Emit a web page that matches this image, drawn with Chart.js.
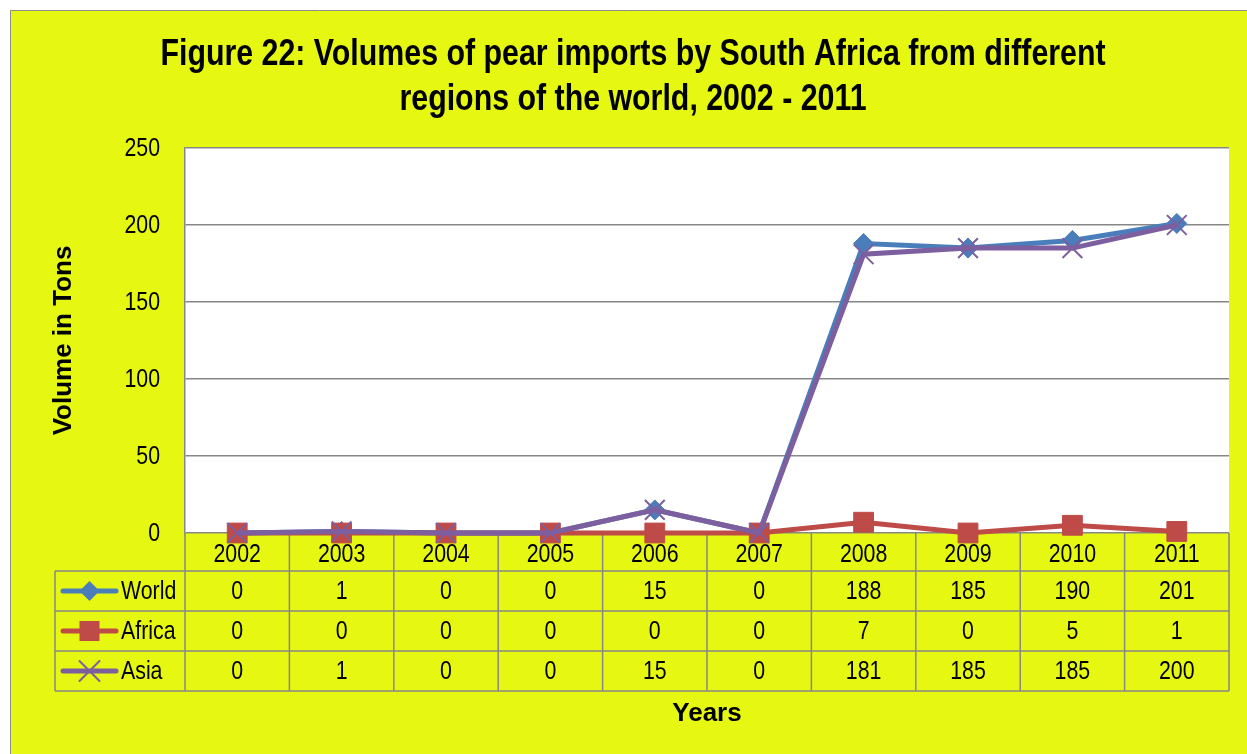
<!DOCTYPE html>
<html><head><meta charset="utf-8">
<script src="https://cdn.jsdelivr.net/npm/chart.js@4.4.1/dist/chart.umd.min.js"></script>
<style>html,body{margin:0;padding:0;background:#fff;overflow:hidden}#wrap{width:1247px;height:754px;position:relative}</style>
</head><body><div id="wrap"><canvas id="c" width="1247" height="754"></canvas></div>
<script>
const years = ['2002','2003','2004','2005','2006','2007','2008','2009','2010','2011'];
const world = [0,1,0,0,15,0,188,185,190,201];
const africa = [0,0,0,0,0,0,7,0,5,1];
const asia = [0,1,0,0,15,0,181,185,185,200];
const seriesNames = ['World','Africa','Asia'];
const titleLines = ['Figure 22: Volumes of pear imports by South Africa from different','regions of the world, 2002 - 2011'];
const yTitle = 'Volume in Tons';
const xTitle = 'Years';

const FONT = "'Liberation Sans',Arial,sans-serif";
const NARROW = 0.82;
const YELLOW = '#E6F811';
const GRID = '#878787';
const colors = ['#4A7EBB','#BE4B48','#7D5FA0'];
const markers = ['rectRot','rect','crossRot'];
const series = [world, africa, asia];

const TABLE = {header: 533, rows: [571, 611, 651, 691], legendLeft: 55};

function narrowText(ctx, text, x, y, align, font) {
  ctx.save();
  ctx.font = font; ctx.textAlign = align; ctx.fillStyle = '#000';
  ctx.translate(x, y); ctx.scale(NARROW, 1);
  ctx.fillText(text, 0, 0);
  ctx.restore();
}

function drawMarker(ctx, style, x, y, color) {
  ctx.save();
  ctx.fillStyle = color; ctx.strokeStyle = color;
  ctx.beginPath();
  if (style === 'rectRot') {
    const r = 10;
    ctx.moveTo(x - r, y); ctx.lineTo(x, y - r); ctx.lineTo(x + r, y); ctx.lineTo(x, y + r); ctx.closePath(); ctx.fill();
  } else if (style === 'rect') {
    const s = 10;
    ctx.rect(x - s, y - s, 2 * s, 2 * s); ctx.fill();
  } else {
    const r = 10; ctx.lineWidth = 2;
    ctx.moveTo(x - r, y - r); ctx.lineTo(x + r, y + r); ctx.moveTo(x + r, y - r); ctx.lineTo(x - r, y + r); ctx.stroke();
  }
  ctx.restore();
}

const bgPlugin = {
  id: 'bg',
  beforeDraw(chart) {
    const ctx = chart.ctx, a = chart.chartArea;
    ctx.save();
    ctx.fillStyle = '#fff'; ctx.fillRect(0, 0, chart.width, chart.height);
    ctx.fillStyle = YELLOW; ctx.fillRect(10, 10, chart.width, chart.height);
    ctx.strokeStyle = '#8c8c8c'; ctx.lineWidth = 1;
    ctx.beginPath(); ctx.moveTo(10.5, chart.height); ctx.lineTo(10.5, 10.5); ctx.lineTo(chart.width, 10.5); ctx.stroke();
    ctx.fillStyle = '#fff'; ctx.fillRect(a.left, a.top, a.right - a.left, a.bottom - a.top);
    ctx.restore();
  },
  beforeDatasetsDraw(chart) {
    const ctx = chart.ctx, a = chart.chartArea, xs = chart.scales.x, ys = chart.scales.y;
    const n = years.length, colW = (a.right - a.left) / n;
    const F = '26px ' + FONT;
    ctx.save();
    // title
    narrowText(ctx, titleLines[0], 633, 65, 'center', 'bold 37px ' + FONT);
    narrowText(ctx, titleLines[1], 633, 110, 'center', 'bold 37px ' + FONT);
    // y tick labels
    ctx.textBaseline = 'middle';
    ys.ticks.forEach(t => {
      narrowText(ctx, String(t.value), a.left - 25, ys.getPixelForValue(t.value) + 1, 'right', F);
    });
    // table grid
    ctx.strokeStyle = GRID; ctx.lineWidth = 1.5;
    ctx.beginPath();
    for (let k = 0; k <= n; k++) {
      const x = a.left + k * colW;
      ctx.moveTo(x, a.bottom); ctx.lineTo(x, TABLE.rows[3]);
    }
    ctx.moveTo(TABLE.legendLeft, TABLE.rows[0]); ctx.lineTo(TABLE.legendLeft, TABLE.rows[3]);
    TABLE.rows.forEach(y => { ctx.moveTo(TABLE.legendLeft, y); ctx.lineTo(a.right, y); });
    ctx.stroke();
    years.forEach((yr, i) => {
      const x = xs.getPixelForValue(i);
      narrowText(ctx, yr, x, (a.bottom + TABLE.rows[0]) / 2 + 3, 'center', F);
      series.forEach((s, j) => {
        narrowText(ctx, String(s[i]), x, (TABLE.rows[j] + TABLE.rows[j + 1]) / 2 + 1, 'center', F);
      });
    });
    seriesNames.forEach((nm, j) => {
      const cy = (TABLE.rows[j] + TABLE.rows[j + 1]) / 2;
      ctx.strokeStyle = colors[j]; ctx.lineWidth = 5; ctx.lineCap = 'round';
      ctx.beginPath(); ctx.moveTo(63, cy); ctx.lineTo(116, cy); ctx.stroke();
      drawMarker(ctx, markers[j], 89.5, cy, colors[j]);
      narrowText(ctx, nm, 121, cy + 1, 'left', F);
    });
    ctx.fillStyle = '#000';
    ctx.font = 'bold 26px ' + FONT; ctx.textAlign = 'center';
    ctx.fillText(xTitle, (a.left + a.right) / 2, 714);
    ctx.restore();
  }
};

const mk = (i, data, r) => ({
  label: seriesNames[i], data, borderColor: colors[i], backgroundColor: colors[i],
  borderWidth: 5, pointStyle: markers[i], pointRadius: r, pointHoverRadius: r,
  pointBorderWidth: i === 2 ? 2 : 1, tension: 0, order: 2 - i, clip: false
});

new Chart(document.getElementById('c'), {
  type: 'line',
  data: { labels: years, datasets: [mk(0, world, 10), mk(1, africa, 14), mk(2, asia, 14)] },
  plugins: [bgPlugin],
  options: {
    responsive: false, animation: false, devicePixelRatio: 1,
    layout: { padding: { left: 0, top: 148, right: 18, bottom: 221 } },
    plugins: { legend: { display: false }, tooltip: { enabled: false }, title: { display: false } },
    scales: {
      x: { type: 'category', offset: true, display: false },
      y: {
        min: 0, max: 250,
        afterFit(s) { s.width = 185; },
        ticks: { stepSize: 50, display: false },
        grid: { color: GRID, lineWidth: 1.5, drawTicks: false },
        border: { display: true, color: GRID, width: 1.5 },
        title: { display: true, text: yTitle, color: '#000', padding: { top: 48, bottom: 0 },
          font: { family: FONT, size: 26, weight: 'bold' } }
      }
    }
  }
});
</script></body></html>
